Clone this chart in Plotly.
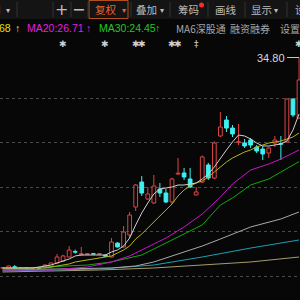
import plotly.graph_objects as go

# ---------------- data ----------------
IDX = list(range(50))
OPEN  = [6.40, 6.28, 6.58, 6.40, 6.47, 6.40, 6.45, 6.55, 6.55, 7.09,
         7.36, 7.90, 8.65, 8.20, 8.25, 8.35, 8.28, 8.15, 7.90, 9.78,
         9.25, 10.87, 14.64, 18.01, 15.72, 15.18, 17.07, 16.53, 15.32, 19.09,
         19.23, 18.42, 16.26, 18.01, 20.31, 18.55, 24.22, 26.37, 25.29, 23.35,
         23.27, 23.68, 22.73, 22.46, 21.92, 23.27, 23.20, 23.41, 29.20, 26.64]
HIGH  = [6.50, 6.75, 6.82, 6.55, 6.55, 6.52, 6.50, 6.90, 7.15, 8.31,
         8.20, 9.38, 8.90, 9.25, 8.45, 8.45, 8.45, 8.25, 10.46, 9.90,
         12.08, 13.97, 17.75, 18.82, 17.34, 18.96, 17.88, 17.07, 18.60, 21.25,
         19.90, 19.90, 17.34, 21.60, 20.60, 23.50, 27.45, 26.91, 25.70, 25.84,
         23.81, 23.95, 23.00, 22.87, 22.75, 24.22, 24.22, 29.30, 29.30, 34.80]
LOW   = [6.35, 6.25, 6.28, 6.35, 6.38, 6.36, 6.35, 6.50, 6.50, 7.00,
         7.30, 7.85, 8.35, 8.04, 8.15, 8.20, 8.20, 7.95, 7.85, 9.20,
         9.20, 10.46, 14.10, 16.13, 15.60, 15.05, 15.99, 15.18, 15.05, 18.96,
         18.28, 17.20, 16.20, 17.90, 18.30, 18.40, 24.08, 24.75, 24.08, 23.00,
         22.60, 22.60, 21.92, 20.98, 21.25, 22.73, 20.98, 23.30, 26.78, 26.50]
CLOSE = [6.45, 6.69, 6.52, 6.48, 6.42, 6.45, 6.40, 6.82, 7.09, 7.90,
         8.04, 8.84, 8.55, 8.35, 8.35, 8.30, 8.36, 8.00, 9.92, 9.25,
         11.27, 13.56, 17.61, 16.53, 16.40, 17.47, 16.53, 15.32, 18.42, 19.20,
         18.69, 17.34, 16.67, 21.39, 18.55, 23.27, 25.43, 25.29, 24.49, 23.45,
         22.87, 23.00, 22.19, 21.79, 22.60, 23.68, 23.10, 29.20, 27.05, 31.77]

MA5  = [6.42, 6.42, 6.42, 6.42, 6.42, 6.42, 6.55, 6.69, 6.82, 7.09,
        7.36, 7.63, 8.04, 8.17, 8.17, 8.17, 8.17, 8.17, 8.58, 8.85,
        9.38, 10.46, 12.22, 13.83, 15.18, 16.40, 17.07, 17.20, 17.34, 17.61,
        17.61, 17.74, 17.88, 18.42, 19.09, 20.04, 21.24, 22.33, 23.41, 24.35,
        24.22, 23.81, 23.27, 22.87, 22.87, 23.00, 23.14, 23.54, 25.02, 27.18]
MA10 = [6.42, 6.42, 6.42, 6.42, 6.42, 6.42, 6.42, 6.42, 6.55, 6.69,
        6.82, 6.96, 7.23, 7.36, 7.50, 7.63, 7.77, 7.90, 8.04, 8.44,
        8.85, 9.38, 10.33, 11.00, 11.81, 12.62, 13.43, 14.24, 15.05, 16.13,
        16.94, 17.47, 17.88, 18.15, 18.69, 19.36, 20.04, 20.71, 21.25, 21.65,
        22.06, 22.33, 22.73, 23.00, 23.27, 23.41, 23.54, 23.81, 24.08, 24.62]
MA20_IDX = [0, 8, 14, 18, 21, 23, 25, 27, 30, 33, 36, 38, 41, 44, 46, 49]
MA20     = [6.15, 6.15, 6.55, 7.23, 8.04, 8.85, 9.65, 10.46, 11.95, 13.70,
            15.99, 17.74, 19.63, 20.44, 21.11, 22.33]
MA30_IDX = [0, 8, 14, 18, 21, 23, 25, 28, 30, 33, 36, 38, 41, 44, 46, 49]
MA30     = [6.28, 6.55, 6.82, 7.23, 7.77, 8.17, 8.98, 10.19, 11.00, 12.22,
            14.91, 15.86, 17.61, 18.42, 19.36, 20.76]
MA60_IDX = [0, 10, 18, 22, 25, 30, 33, 36, 41, 46, 49]
MA60     = [6.15, 6.28, 6.42, 6.69, 7.23, 8.58, 9.38, 10.33, 11.95, 13.03, 13.97]
MA120_IDX = [0, 16, 25, 33, 41, 49]
MA120     = [6.01, 6.28, 6.82, 7.90, 9.11, 10.19]
MA250_IDX = [0, 16, 25, 33, 41, 49]
MA250     = [5.88, 6.15, 6.42, 6.82, 7.23, 7.90]

GRID_PRICES = [29.34, 23.34, 17.34, 11.34, 5.34]
MARK_IDX = [10, 17, 22, 23, 28, 29, 32, 49]
MARK_TXT = ["✱", "✱", "✱", "✱", "✱", "✱", "‡", "✱"]
HIGH_LABEL = "34.80"

# ---------------- styles ----------------
BG = "#070707"
RED = "#dc4444"
CYAN = "#3ff0f0"
W, H = 300, 300
FONT = "Noto Sans CJK SC, Noto Sans, sans-serif"
LATIN = "Liberation Sans, Arial, sans-serif"

fig = go.Figure()

up = [i for i in IDX if CLOSE[i] >= OPEN[i]]
dn = [i for i in IDX if CLOSE[i] < OPEN[i]]

ma_specs = [
    (MA250_IDX, MA250, "#a39d6c"),
    (MA120_IDX, MA120, "#1f9fb3"),
    (MA60_IDX, MA60, "#a8a8a8"),
    (MA30_IDX, MA30, "#10a810"),
    (MA20_IDX, MA20, "#c815c8"),
    (IDX, MA10, "#b8b414"),
    (IDX, MA5, "#cfcfcf"),
]

def wick_xy(ids):
    xs, ys = [], []
    for i in ids:
        top = max(OPEN[i], CLOSE[i]); bot = min(OPEN[i], CLOSE[i])
        xs += [i, i, None, i, i, None]
        ys += [HIGH[i], top, None, bot, LOW[i], None]
    return xs, ys

for ids, col in ((up, RED), (dn, CYAN)):
    wx, wy = wick_xy(ids)
    fig.add_trace(go.Scatter(x=wx, y=wy, mode="lines", line=dict(color=col, width=1),
                             hoverinfo="skip"))

fig.add_trace(go.Bar(x=up, base=[OPEN[i] for i in up], y=[CLOSE[i] - OPEN[i] for i in up],
                     width=0.62, marker=dict(color="rgba(0,0,0,0)", line=dict(color=RED, width=1))))
fig.add_trace(go.Bar(x=dn, base=[CLOSE[i] for i in dn], y=[OPEN[i] - CLOSE[i] for i in dn],
                     width=0.62, marker=dict(color=CYAN, line=dict(color=CYAN, width=1))))

for xi, yv, col in ma_specs:
    fig.add_trace(go.Scatter(x=xi, y=yv, mode="lines", line=dict(color=col, width=1),
                             hoverinfo="skip"))

# ---------------- toolbar & labels ----------------
def px(x):
    return x / W

def py(y):
    return 1 - y / H

shapes = [
    dict(type="rect", xref="paper", yref="paper", x0=0, x1=1, y0=py(19), y1=1,
         fillcolor="#141414", line=dict(width=0), layer="above"),
    dict(type="rect", xref="paper", yref="paper", x0=0, x1=1, y0=py(37), y1=py(19),
         fillcolor=BG, line=dict(width=0), layer="above"),
    dict(type="rect", xref="paper", yref="paper", x0=px(89), x1=px(128), y0=py(18.5), y1=py(0.5),
         fillcolor="#141414", line=dict(color="#b0501e", width=1), layer="above"),
    dict(type="circle", xref="paper", yref="paper", x0=px(199), x1=px(204), y0=py(7.5), y1=py(2.5),
         fillcolor="#ff2a2a", line=dict(width=0), layer="above"),
]
for sx in [17, 53, 71, 88, 131, 170, 208, 245, 287]:
    shapes.append(dict(type="line", xref="paper", yref="paper", x0=px(sx), x1=px(sx),
                       y0=py(17), y1=py(2), line=dict(color="#333333", width=1), layer="above"))

ann = []
def txt(x, y, s, color, size=10.5, anchor="left", family=FONT):
    ann.append(dict(x=px(x), y=py(y), xref="paper", yref="paper", text=s, showarrow=False,
                    xanchor=anchor, yanchor="middle", font=dict(color=color, size=size, family=family)))

GREY = "#bdbdbd"
# row 1
txt(3, 9, "期", GREY, anchor="right")
txt(8, 9, "▾", GREY, size=8, anchor="center")
txt(61, 9, "+", GREY, size=16, anchor="center", family="DejaVu Sans")
txt(79, 9, "−", GREY, size=16, anchor="center", family="DejaVu Sans")
txt(106, 9, "复权", "#e8662c", anchor="center")
txt(124, 9, "▾", "#e8662c", size=8, anchor="center")
txt(146, 9, "叠加", GREY, anchor="center")
txt(162, 9, "▾", GREY, size=8, anchor="center")
txt(188, 9, "筹码", GREY, anchor="center")
txt(226, 9, "画线", GREY, anchor="center")
txt(261, 9, "显示", GREY, anchor="center")
txt(276, 9, "▾", GREY, size=8, anchor="center")
txt(293, 9, "设", GREY, anchor="left")
# row 2
txt(13, 28, "68", "#e2e000", anchor="right", family=LATIN)
txt(17, 28, "↑", "#e2e000", anchor="center", family=LATIN)
txt(25, 28, "MA20:26.71", "#e020e0", family=LATIN)
txt(88, 28, "↑", "#e020e0", anchor="center", family=LATIN)
txt(97, 28, "MA30:24.45", "#22c822", family=LATIN)
txt(157, 28, "↑", "#22c822", anchor="center", family=LATIN)
txt(174, 28, "MA6深股通", "#a8a8a8", size=10)
txt(228, 28, "融资融券", "#a8a8a8", size=10)
txt(278, 28, "设置", "#a8a8a8", size=10)

for i, s in zip(MARK_IDX, MARK_TXT):
    ann.append(dict(x=i, y=py(44), xref="x", yref="paper", text=s, showarrow=False,
                    xanchor="center", yanchor="middle",
                    font=dict(color="#d0d0d0", size=9, family="DejaVu Sans")))

ann.append(dict(x=49, y=HIGH[49], xref="x", yref="y", text=HIGH_LABEL, showarrow=True,
                arrowhead=0, arrowwidth=1, arrowcolor="#c8c8c8", ax=-12, ay=0,
                xanchor="right", yanchor="middle",
                font=dict(color="#d8d8d8", size=11, family=LATIN)))

fig.update_layout(
    width=W, height=H, margin=dict(l=0, r=0, t=0, b=0),
    paper_bgcolor=BG, plot_bgcolor=BG, showlegend=False, barmode="overlay",
    xaxis=dict(range=[-0.43, 49.16], visible=False, fixedrange=True),
    yaxis=dict(range=[2.104, 42.553], showticklabels=False, zeroline=False,
               tickvals=GRID_PRICES, showgrid=True, gridcolor="#4a4a4a", griddash="dot",
               gridwidth=1, ticks="", fixedrange=True),
    shapes=shapes, annotations=ann,
)

fig.write_html("out.html", include_plotlyjs=True, config={"displayModeBar": False})
